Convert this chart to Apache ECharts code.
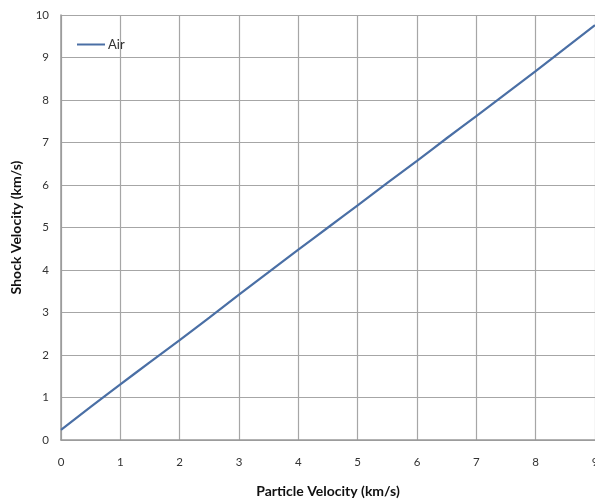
<!DOCTYPE html>
<html><head><meta charset="utf-8">
<script src="https://cdn.jsdelivr.net/npm/echarts@6/dist/echarts.min.js"></script>
<style>html,body{margin:0;padding:0;background:#fff}#c{width:595px;height:502px}</style>
</head><body><div id="c"></div>
<script>
const particleVelocity = [0, 0.5, 1, 1.5, 2, 2.5, 3, 3.5, 4, 4.5, 5, 5.5, 6, 6.5, 7, 7.5, 8, 8.5, 9];
const shockVelocityAir = [0.24, 0.78, 1.31, 1.83, 2.35, 2.88, 3.42, 3.95, 4.48, 5.0, 5.52, 6.05, 6.57, 7.1, 7.62, 8.15, 8.68, 9.22, 9.76];
const seriesName = 'Air';
const xTitle = 'Particle Velocity (km/s)';
const yTitle = 'Shock Velocity (km/s)';

const chart = echarts.init(document.getElementById('c'));
const font = 'Lato, "Open Sans", sans-serif';
chart.setOption({
  animation: false,
  grid: {left: 61, top: 15, right: 0, bottom: 62, containLabel: false, outerBoundsMode: 'none'},
  legend: {
    left: 72, top: 33, itemWidth: 28, itemHeight: 2, itemGap: 4,
    textStyle: {fontFamily: font, fontSize: 13, color: '#333', padding: [0,0,0,-2]},
    data: [{name: seriesName, icon: 'rect'}]
  },
  xAxis: {
    type: 'value', min: 0, max: 9, interval: 1,
    name: xTitle, nameLocation: 'middle', nameGap: 44,
    nameTextStyle: {fontFamily: font, fontSize: 14, fontWeight: 'bold', color: '#111'},
    axisLine: {show: true, lineStyle: {color: '#999', width: 1.5}},
    axisTick: {show: false},
    axisLabel: {fontFamily: font, fontSize: 11.5, color: '#333', margin: 16},
    splitLine: {show: true, lineStyle: {color: '#a6a6a6', width: 1.2}}
  },
  yAxis: {
    type: 'value', min: 0, max: 10, interval: 1,
    name: yTitle, nameLocation: 'middle', nameGap: 38,
    nameTextStyle: {fontFamily: font, fontSize: 14, fontWeight: 'bold', color: '#111'},
    axisLine: {show: true, lineStyle: {color: '#999', width: 1.5}},
    axisTick: {show: false},
    axisLabel: {fontFamily: font, fontSize: 11.5, color: '#333', margin: 12},
    splitLine: {show: true, lineStyle: {color: '#a6a6a6', width: 1.2}}
  },
  series: [{
    name: seriesName, type: 'line', showSymbol: false, smooth: true,
    data: particleVelocity.map((x, i) => [x, shockVelocityAir[i]]),
    lineStyle: {color: '#4a6fa5', width: 2.2},
    itemStyle: {color: '#4a6fa5'}
  }]
});
</script></body></html>
